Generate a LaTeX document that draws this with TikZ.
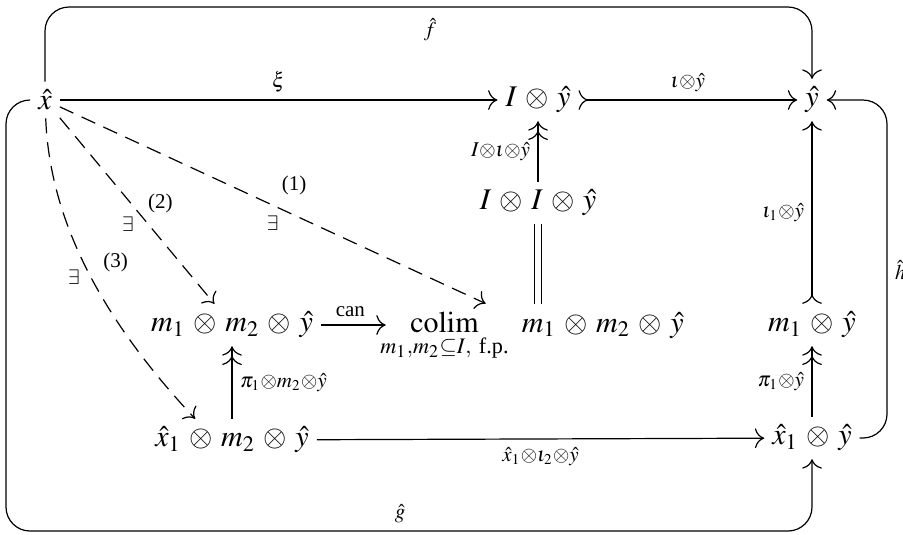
\documentclass[tikz,border=0pt]{standalone}
\usepackage{amsmath}
\usepackage{mathptmx}
\usepackage[no-math]{fontspec}
\setmainfont{Liberation Serif}
\usepackage{tikz}
\usetikzlibrary{arrows.meta,positioning,calc}

\newcommand{\xh}{\hat{x}}
\newcommand{\yh}{\hat{y}}

\begin{document}
\begin{tikzpicture}[
    x=0.3333pt, y=-0.3333pt,
    obj/.style={inner sep=2.5pt, execute at begin node={\medmuskip=5mu}},
    lbl/.style={font=\scriptsize, inner sep=2.5pt, execute at begin node={\medmuskip=0mu}},
    arr/.style={-{To[length=1.1mm]}},
    epi/.style={-{To[length=1.1mm] To[length=1.1mm]}},
    mono/.style={{To[length=1.1mm,reversed]}-{To[length=1.1mm]}},
    ex/.style={arr, dash pattern=on 5pt off 3pt},
    loop/.style={arr, rounded corners=8pt}
]
    \useasboundingbox (0,0) rectangle (903,534);

    \node[obj] (x) at (45,100) {$\xh$};
    \node[obj] (Iy) at (538,100) {$I\otimes\yh$};
    \node[obj] (y) at (812,100) {$\yh$};
    \node[obj] (IIy) at (538,203) {$I\otimes I\otimes\yh$};
    \node[obj] (mmy) at (232,325) {$m_1\otimes m_2\otimes\yh$};
    \node[obj, inner xsep=0pt] (colim) at (532,325)
        {$\smash[b]{\displaystyle\operatorname*{colim}_{m_1,m_2\subseteq I,\ \text{f.p.}}}\;\; m_1\otimes m_2\otimes\yh$};
    \node[obj] (my) at (812,325) {$m_1\otimes\yh$};
    \node[obj] (xmy) at (232,440) {$\xh_1\otimes m_2\otimes\yh$};
    \node[obj] (xy) at (812,438) {$\xh_1\otimes\yh$};

    \coordinate (ftop) at (430,7);
    \coordinate (gleft) at (6,100);
    \coordinate (gbot) at (400,531);
    \coordinate (hright) at (887,270);

    % top row
    \draw[arr] (x) -- node[above, lbl] {$\xi$} (Iy);
    \draw[mono] (Iy) -- node[above, lbl] {$\iota\otimes\yh$} (y);
    \draw[epi] (IIy) -- node[left, lbl] {$I\otimes\iota\otimes\yh$} (Iy);
    \draw[double distance=2pt] (IIy.south) -- (IIy.south |- colim.north);

    % right column
    \draw[mono] (my) -- node[left, lbl] {$\iota_1\otimes\yh$} (y);
    \draw[epi] (xy) -- node[left, lbl] {$\pi_1\otimes\yh$} (my);

    % middle and bottom
    \draw[arr, shorten >=-2pt] (mmy) -- node[above, lbl] {can} (colim.west |- mmy.east);
    \draw[epi] (xmy) -- node[right, lbl] {$\pi_1\otimes m_2\otimes\yh$} (mmy);
    \draw[arr] (xmy) -- node[below, lbl] {$\xh_1\otimes\iota_2\otimes\yh$} (xy);

    % dashed
    \draw[ex] (x) -- node[pos=0.55, above=4pt, lbl] {(1)}
        node[pos=0.5, below=1pt, lbl] {$\exists$} (colim);
    \draw[ex] (x) -- node[pos=0.46, right=3pt, lbl] {(2)}
        node[pos=0.57, left=2pt, lbl] {$\exists$} (mmy);
    \draw[ex] (x) .. controls (50,230) and (112,330) .. node[pos=0.45, right=4pt, lbl] {(3)}
        node[pos=0.5, left=1pt, lbl] {$\exists$} ([xshift=16pt]xmy.north west);

    % outer loops
    \draw[loop] (x) |- (ftop) node[below=1pt, lbl] {$\hat{f}$} -| (y);
    \draw[loop] (x) -- (gleft) |- (gbot) node[above=0pt, lbl] {$\hat{g}$} -| (xy);
    \draw[loop] (xy) -| (hright) node[right=0pt, inner sep=1pt, lbl] {$\hat{h}$} |- (y);
\end{tikzpicture}
\end{document}
